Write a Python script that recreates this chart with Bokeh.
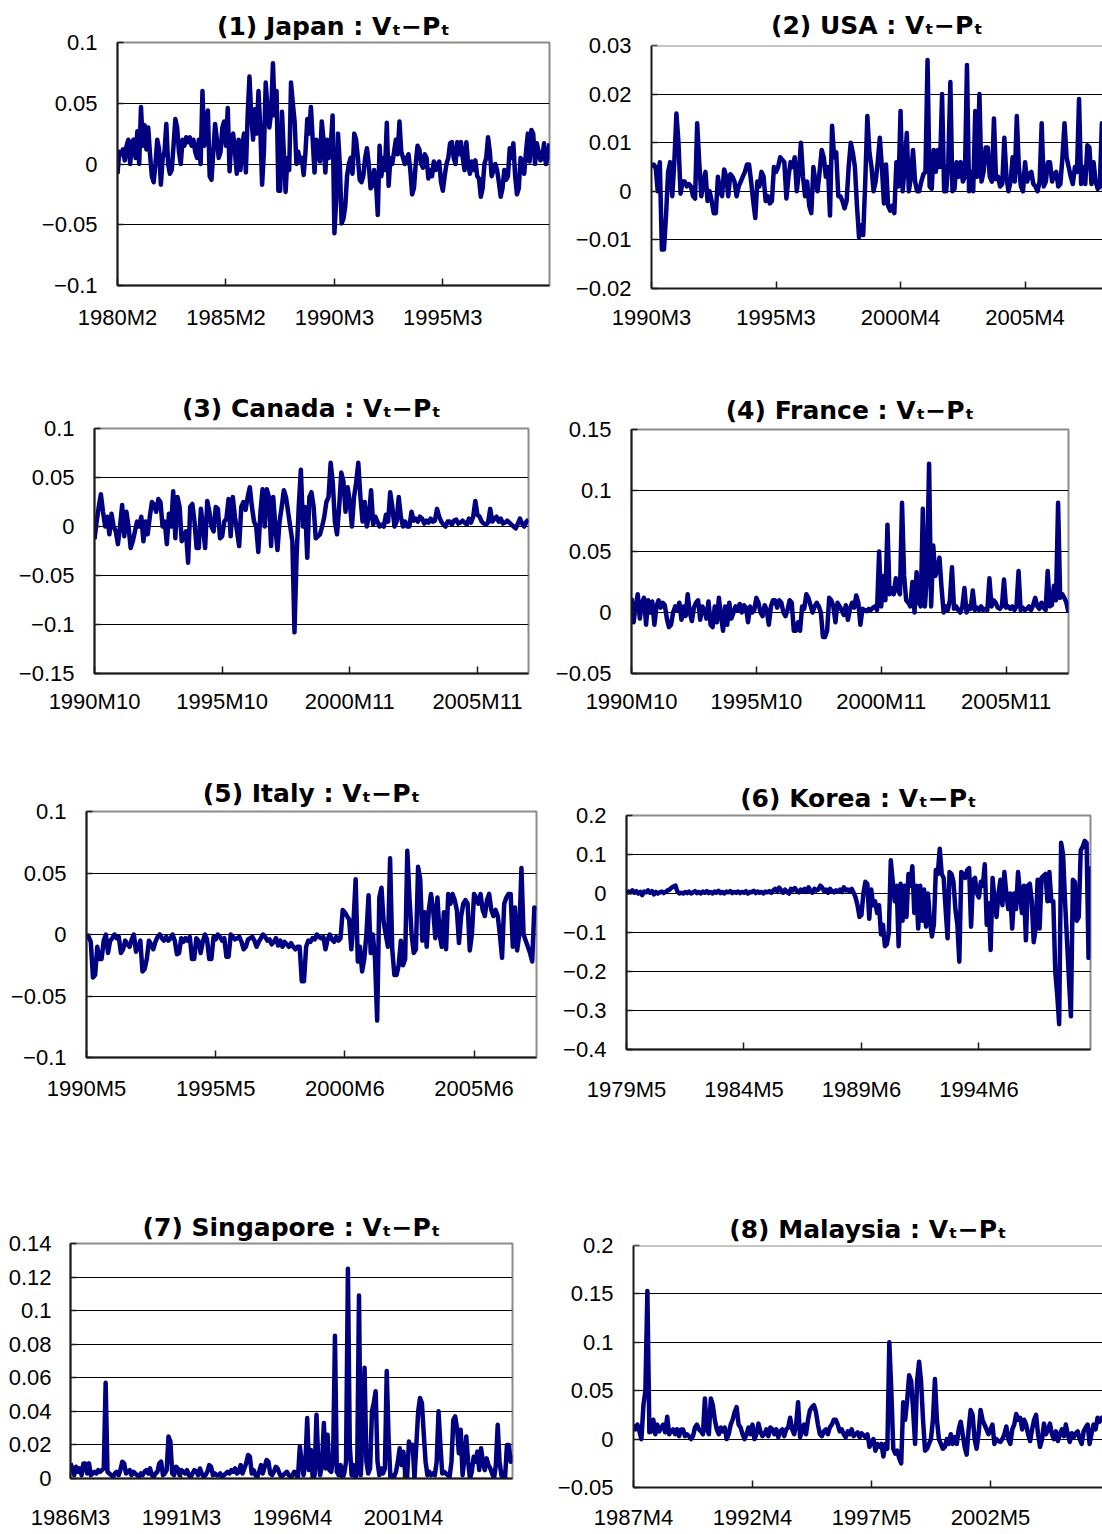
from bokeh.plotting import figure
from bokeh.layouts import column, row
from bokeh.models import Range1d, FixedTicker, Span
from bokeh.embed import file_html
from bokeh.resources import INLINE

# ---------------- data (monthly values) ----------------
japan = [
    -0.008, 0.01, 0.008, 0.012, 0.003, 0.015, 0.02, 0.0, 0.018, 0.02,
    0.005, 0.027, 0.0, 0.047, 0.015, 0.032, 0.012, 0.03, 0.008, -0.01,
    -0.015, 0.0, 0.02, 0.012, -0.017, 0.005, 0.01, 0.033, 0.0, -0.008,
    -0.005, 0.015, 0.037, 0.03, 0.01, 0.0, 0.02, 0.015, 0.022, 0.018,
    0.022, 0.015, 0.02, 0.01, 0.005, 0.02, 0.0, 0.06, 0.015, 0.035,
    0.044, -0.01, -0.013, 0.01, 0.033, 0.02, 0.005, 0.01, 0.03, 0.035,
    0.015, 0.046, -0.006, 0.02, 0.025, 0.01, -0.008, 0.02, -0.005, 0.015,
    0.025, -0.007, 0.04, 0.072, 0.04, 0.02, 0.045, 0.025, 0.06, 0.03,
    -0.017, 0.01, 0.067, 0.045, 0.03, 0.042, 0.083, 0.04, 0.06, -0.022,
    -0.022, 0.043, 0.01, -0.023, 0.005, -0.005, 0.067, 0.05, 0.035, 0.0,
    0.01, 0.002, 0.005, -0.009, 0.01, 0.037, 0.025, 0.047, 0.02, -0.007,
    0.02, 0.015, 0.002, 0.035, 0.02, -0.007, 0.02, 0.005, 0.015, 0.04,
    -0.057, -0.03, 0.025, 0.0, -0.049, -0.045, -0.035, -0.01, 0.0, 0.005,
    -0.008, 0.025, 0.02, 0.005, -0.013, -0.015, -0.01, 0.005, 0.013, 0.0,
    -0.02, -0.018, -0.005, -0.015, -0.042, 0.015, -0.01, 0.005, -0.005, 0.034,
    -0.018, 0.005, 0.0, 0.01, 0.02, 0.008, 0.035, 0.01, 0.005, 0.0,
    0.005, 0.008, -0.005, -0.025, -0.02, 0.0, 0.015, 0.012, 0.0, -0.003,
    0.008, 0.005, -0.012, -0.005, -0.01, 0.002, -0.005, 0.0, 0.002, -0.015,
    -0.022, -0.01, 0.0, 0.005, 0.017, 0.018, 0.005, 0.0, 0.018, 0.008,
    0.018, 0.005, -0.005, 0.018, 0.0, -0.008, 0.002, -0.005, 0.003, -0.01,
    -0.012, -0.027, -0.02, 0.0, 0.005, 0.022, 0.01, -0.01, -0.005, 0.0,
    -0.005, -0.015, -0.027, -0.02, -0.005, -0.013, -0.01, 0.013, 0.005, 0.017,
    -0.01, -0.025, -0.02, 0.005, 0.0, -0.008, 0.01, 0.025, 0.002, 0.028,
    0.025, 0.0, 0.017, 0.01, 0.003, 0.005, 0.017, 0.0, 0.005, 0.017,
]

usa = [
    0.005, 0.0055, 0.005, 0.0, 0.006, -0.012, -0.012, -0.005, 0.004, 0.006,
    -0.001, 0.006, 0.016, 0.01, -0.0005, 0.002, 0.002, 0.001, 0.0015, 0.001,
    -0.001, -0.0015, 0.014, 0.006, -0.001, 0.002, 0.004, -0.002, 0.0, -0.002,
    -0.0045, -0.0045, 0.003, 0.0, -0.001, 0.0045, 0.003, -0.001, 0.0035, 0.003,
    0.002, -0.001, 0.001, 0.002, 0.003, 0.004, 0.0055, 0.0055, 0.002, -0.002,
    -0.0055, 0.002, 0.001, 0.004, 0.003, -0.002, -0.001, -0.0025, -0.002, 0.005,
    0.004, 0.005, 0.007, 0.0065, 0.006, -0.0015, 0.003, 0.006, 0.005, 0.007,
    0.0, 0.004, 0.010, 0.003, -0.001, 0.002, -0.003, -0.0045, 0.005, 0.002,
    0.0, 0.004, 0.0085, 0.007, 0.003, 0.005, -0.005, 0.0135, 0.007, 0.008,
    -0.001, -0.001, -0.002, -0.0035, -0.002, 0.005, 0.01, 0.008, 0.005, -0.003,
    -0.0095, -0.007, -0.009, 0.002, 0.0155, 0.008, 0.005, 0.0, 0.002, 0.006,
    0.011, 0.005, -0.0025, 0.0055, -0.003, -0.004, -0.003, -0.0045, 0.006, 0.001,
    0.0165, 0.0, 0.005, 0.012, 0.0, 0.003, 0.0085, 0.002, 0.0, 0.0,
    0.002, 0.0035, 0.004, 0.027, 0.001, 0.0005, 0.0085, 0.004, 0.0085, 0.005,
    0.02, 0.0, 0.0, 0.006, 0.0225, 0.0, 0.0005, 0.006, 0.003, 0.006,
    0.002, 0.003, 0.026, 0.0, 0.004, 0.0, 0.0165, 0.003, 0.02, 0.002,
    0.004, 0.009, 0.009, 0.003, 0.002, 0.015, 0.0025, 0.003, 0.001, 0.0015,
    0.011, 0.003, 0.0, 0.002, 0.007, 0.002, 0.0155, 0.005, 0.001, 0.0,
    0.006, 0.002, 0.0035, 0.004, 0.0015, 0.001, 0.0, 0.002, 0.014, 0.001,
    0.002, 0.006, 0.006, 0.002, 0.0035, 0.004, 0.001, 0.0015, 0.007, 0.014,
    0.007, 0.005, 0.003, 0.0015, 0.005, 0.004, 0.019, 0.0015, 0.005, 0.0015,
    0.0095, 0.009, 0.0015, 0.006, 0.002, 0.0005, 0.001, 0.014, 0.0, 0.006,
    0.002, 0.005,
]

canada = [
    -0.013, 0.005, 0.02, 0.033, 0.015, 0.0, 0.01, -0.008, 0.013, 0.0,
    -0.005, -0.018, 0.0, 0.022, -0.01, 0.015, 0.0, -0.022, -0.015, -0.005,
    0.005, 0.0, 0.01, -0.015, 0.005, -0.008, 0.01, 0.025, 0.022, 0.015,
    0.028, 0.025, 0.0, 0.005, -0.018, 0.013, 0.0, 0.036, -0.012, 0.03,
    0.02, -0.015, -0.01, -0.005, -0.037, 0.02, 0.023, 0.005, -0.022, -0.022,
    0.018, 0.0, -0.022, 0.026, 0.015, 0.0, -0.005, 0.02, 0.018, -0.012,
    -0.01, 0.005, 0.008, 0.028, -0.01, 0.03, 0.01, -0.005, -0.02, 0.02,
    0.025, 0.017, 0.03, 0.04, 0.02, 0.005, 0.0, -0.026, 0.015, 0.038,
    0.0, 0.038, 0.03, -0.02, 0.03, 0.0, -0.024, 0.005, 0.02, 0.037,
    0.03, 0.015, 0.0, -0.015, -0.108, -0.03, 0.02, 0.058, 0.0, 0.02,
    -0.032, 0.03, 0.035, 0.02, -0.012, -0.01, -0.008, 0.0, 0.01, 0.025,
    0.03, 0.065, 0.045, 0.005, -0.008, 0.02, 0.055, 0.046, 0.015, 0.04,
    0.025, 0.0, 0.03, 0.045, 0.065, 0.03, 0.005, 0.025, 0.0, 0.01,
    0.037, 0.002, 0.01, 0.005, 0.0, 0.002, 0.0, 0.012, 0.005, 0.035,
    0.02, 0.0, 0.005, 0.03, 0.01, 0.0, 0.005, 0.0, 0.0, 0.015,
    0.006, 0.008, 0.005, 0.01, 0.008, 0.003, 0.006, 0.004, 0.008, 0.005,
    0.006, 0.018, 0.01, 0.005, 0.002, 0.0, 0.005, 0.005, 0.002, 0.006,
    0.007, 0.003, 0.004, 0.006, 0.004, 0.002, 0.008, 0.004, 0.01, 0.026,
    0.012, 0.01, 0.005, 0.003, 0.002, 0.004, 0.018, 0.005, 0.008, 0.01,
    0.005, 0.008, 0.003, 0.004, 0.006, 0.004, 0.002, 0.0, -0.002, 0.003,
    0.008, 0.003, 0.0, 0.005, 0.007,
]

france = [
    0.012, -0.008, 0.005, 0.015, -0.005, 0.008, 0.012, -0.01, 0.01, 0.0,
    0.009, -0.01, 0.005, 0.01, 0.004, 0.008, 0.006, -0.005, -0.012, -0.01,
    0.0, 0.005, 0.002, 0.008, -0.006, 0.005, -0.003, 0.015, 0.0, -0.007,
    0.004, 0.008, 0.01, -0.006, 0.005, 0.002, -0.005, 0.009, -0.01, -0.012,
    0.005, -0.008, 0.012, -0.003, -0.015, 0.005, -0.01, 0.008, -0.005, 0.0,
    0.005, 0.002, 0.007, 0.0, 0.006, 0.004, -0.008, 0.005, 0.0, 0.002,
    0.012, 0.008, 0.0, -0.003, 0.006, 0.002, -0.01, 0.005, 0.01, 0.01,
    0.004, 0.01, 0.008, 0.0, -0.003, 0.002, 0.01, 0.008, -0.015, -0.015,
    -0.008, -0.015, 0.005, 0.003, 0.015, 0.012, 0.006, 0.0, 0.005, 0.008,
    0.005, 0.0, -0.02, -0.02, -0.015, 0.012, 0.01, 0.005, -0.008, 0.008,
    0.005, 0.002, -0.002, 0.006, -0.006, 0.003, 0.008, 0.004, 0.014, 0.008,
    -0.01, 0.003, 0.002, 0.001, 0.003, 0.002, 0.004, 0.005, 0.002, 0.05,
    0.005, 0.03, 0.01, 0.072, 0.015, 0.02, 0.015, 0.028, 0.018, 0.015,
    0.09, 0.03, 0.01, 0.008, 0.005, 0.025, 0.0, 0.033, 0.008, 0.005,
    0.085, 0.005, 0.03, 0.122, 0.005, 0.055, 0.03, 0.035, 0.045, 0.02,
    0.0, 0.005, 0.002, 0.01, 0.037, 0.003, 0.005, 0.002, 0.0, 0.005,
    0.02, 0.0, 0.005, 0.003, 0.018, 0.002, 0.004, 0.002, 0.005, 0.002,
    0.003, 0.002, 0.028, 0.005, 0.01, 0.008, 0.004, 0.003, 0.005, 0.027,
    0.004, 0.005, 0.003, 0.005, 0.002, 0.005, 0.034, 0.002, 0.004, 0.002,
    0.003, 0.005, 0.002, 0.006, 0.012, 0.005, 0.003, 0.008, 0.004, 0.002,
    0.034, 0.005, 0.006, 0.022, 0.01, 0.09, 0.012, 0.015, 0.012, 0.008, 0.0,
]

italy = [
    0.0, -0.002, -0.006, -0.035, -0.033, -0.01, -0.02, -0.02, -0.005, 0.0,
    -0.015, -0.005, -0.003, 0.0, -0.003, -0.002, -0.015, -0.012, -0.005, -0.008,
    -0.01, -0.004, 0.0, -0.014, -0.01, -0.005, -0.03, -0.028, -0.02, -0.005,
    -0.008, -0.012, -0.006, -0.002, 0.0, -0.003, -0.005, -0.002, -0.005, -0.003,
    0.0, -0.005, -0.016, -0.015, -0.003, -0.006, -0.003, -0.005, -0.002, -0.02,
    -0.02, -0.003, -0.005, -0.015, -0.006, 0.0, -0.004, -0.02, -0.02, -0.002,
    -0.004, 0.0, -0.002, -0.005, -0.003, -0.018, -0.018, 0.0, -0.002, -0.004,
    -0.003, -0.002, -0.006, -0.012, -0.01, -0.004, -0.003, -0.002, -0.005, -0.01,
    -0.006, -0.003, 0.0, -0.002, -0.005, -0.004, -0.008, -0.006, -0.003, -0.009,
    -0.005, -0.01, -0.006, -0.008, -0.01, -0.007, -0.01, -0.012, -0.01, -0.01,
    -0.038, -0.038, -0.01, -0.005, -0.006, -0.003, -0.004, 0.0, -0.002, -0.003,
    -0.002, -0.012, -0.004, 0.0, -0.004, -0.006, -0.002, -0.005, -0.003, 0.02,
    0.018, 0.015, 0.012, -0.012, 0.01, 0.045, -0.022, -0.01, -0.03, -0.02,
    0.0, 0.032, -0.015, 0.0, -0.02, -0.07, 0.03, 0.038, 0.01, 0.0,
    -0.01, 0.062, -0.012, -0.033, -0.033, -0.025, -0.005, -0.025, -0.02, 0.068,
    0.03, 0.0, -0.015, -0.012, 0.055, 0.045, -0.005, 0.018, -0.01, 0.02,
    0.033, 0.02, -0.003, 0.03, 0.0, -0.01, 0.018, -0.012, 0.033, 0.025,
    0.033, 0.028, 0.02, -0.007, 0.015, 0.025, 0.028, 0.025, -0.013, 0.0,
    0.033, 0.03, 0.025, 0.033, 0.02, 0.015, 0.028, 0.033, 0.02, 0.015,
    0.02, 0.015, 0.0, -0.019, 0.025, 0.03, 0.033, 0.033, -0.01, 0.022,
    -0.013, 0.0, 0.054, 0.0, -0.005, -0.01, -0.015, -0.022, 0.022, 0.02,
]

korea = [
    0.0, 0.005, 0.003, 0.008, 0.002, 0.006, 0.0, 0.004, -0.004, 0.005,
    0.003, 0.008, 0.002, 0.006, -0.002, 0.004, 0.0, 0.003, 0.005, 0.001,
    0.004, 0.008, 0.01, 0.015, 0.018, 0.02, 0.005, 0.0, 0.002, 0.0,
    0.004, 0.001, 0.005, 0.0, 0.003, 0.006, 0.001, 0.004, 0.0, 0.005,
    0.002, 0.006, 0.001, 0.004, 0.0, 0.005, 0.002, 0.007, 0.001, 0.004,
    0.0, 0.005, 0.003, 0.006, 0.001, 0.004, 0.002, 0.005, 0.001, 0.004,
    0.002, 0.006, 0.0, 0.004, 0.003, 0.007, 0.001, 0.005, 0.002, 0.004,
    0.0, 0.005, 0.003, 0.006, 0.002, 0.008, 0.012, 0.005, 0.015, 0.008,
    0.002, 0.01, 0.004, 0.0, 0.012, 0.008, 0.014, 0.006, 0.003, 0.01,
    0.005, 0.012, 0.004, 0.016, 0.006, 0.002, 0.012, 0.008, 0.01, 0.02,
    0.015, 0.005, 0.01, 0.002, 0.012, 0.006, 0.003, 0.008, 0.005, 0.01,
    0.004, 0.016, 0.008, 0.01, 0.005, 0.012, 0.002,
    -0.01, -0.03, -0.06, -0.055, 0.0, 0.03, 0.025, -0.065, 0.01, -0.03,
    -0.02, -0.05, -0.03, -0.105, -0.08, -0.135, -0.13, -0.1, 0.085, 0.03,
    -0.02, 0.02, -0.135, 0.025, -0.07, 0.02, -0.06, 0.05, 0.02, 0.07,
    -0.05, 0.02, -0.09, 0.02, -0.07, 0.01, -0.085, 0.0, -0.07, -0.11,
    -0.08, 0.06, 0.05, 0.115, 0.05, 0.04, -0.04, -0.115, 0.055, 0.05,
    0.03, -0.04, -0.08, -0.175, 0.055, 0.05, 0.04, 0.06, 0.065, -0.085,
    0.035, 0.04, 0.0, -0.01, 0.03, 0.02, 0.075, -0.08, -0.025, -0.145,
    0.04, -0.02, -0.06, 0.0, 0.035, -0.03, 0.055, 0.0, -0.04, 0.0,
    -0.09, 0.0, -0.04, 0.055, 0.0, -0.05, 0.02, -0.12, 0.02, 0.025,
    -0.02, -0.125, -0.09, 0.035, -0.09, 0.04, 0.045, 0.05, -0.02, 0.055,
    -0.02, -0.02, -0.2, -0.26, -0.335, 0.13, 0.1, -0.02, -0.12, -0.22,
    -0.315, 0.035, 0.03, -0.07, -0.06, 0.11, 0.12, 0.135, 0.13, -0.165,
    0.07,
]

singapore = [
    0.009, 0.006, 0.002, 0.007, 0.004, 0.006, 0.002, 0.009, 0.009, 0.003,
    0.009, 0.002, 0.003, 0.004, 0.003, 0.005, 0.004, 0.005, 0.006, 0.057,
    0.004, 0.003, 0.002, 0.001, 0.003, 0.004, 0.002, 0.005, 0.01, 0.009,
    0.003, 0.004, 0.005, 0.002, 0.004, 0.003, 0.002, 0.001, 0.003, 0.002,
    0.004, 0.005, 0.003, 0.006, 0.002, 0.001, 0.003, 0.004, 0.009, 0.01,
    0.002, 0.003, 0.005, 0.025, 0.022, 0.003, 0.002, 0.007, 0.006, 0.002,
    0.005, 0.004, 0.003, 0.005, 0.002, 0.001, 0.003, 0.005, 0.004, 0.002,
    0.006, 0.003, 0.001, 0.002, 0.004, 0.008, 0.007, 0.002, 0.003, 0.002,
    0.002, 0.003, 0.001, 0.002, 0.003, 0.004, 0.003, 0.005, 0.004, 0.006,
    0.003, 0.004, 0.008, 0.003, 0.006, 0.009, 0.014, 0.013, 0.003, 0.005,
    0.002, 0.001, 0.004, 0.008, 0.003, 0.007, 0.011, 0.01, 0.003, 0.002,
    0.004, 0.007, 0.006, 0.003, 0.001, 0.002, 0.003, 0.004, 0.002, 0.001,
    0.002, 0.004, 0.002, 0.001, 0.019, 0.01, 0.002, 0.009, 0.036, 0.005,
    0.017, 0.0, 0.002, 0.038, 0.01, 0.002, 0.008, 0.033, 0.006, 0.026,
    0.005, 0.004, 0.012, 0.085, 0.004, 0.002, 0.008, 0.0, 0.003, 0.01,
    0.125, 0.02, 0.002, 0.008, 0.0, 0.004, 0.109, 0.002, 0.03, 0.066,
    0.01, 0.003, 0.006, 0.04, 0.045, 0.052, 0.01, 0.002, 0.006, 0.003,
    0.006, 0.064, 0.024, 0.0, 0.002, 0.001, 0.004, 0.01, 0.018, 0.008,
    0.016, 0.003, 0.0, 0.022, 0.018, 0.02, 0.0, 0.02, 0.04, 0.048,
    0.045, 0.027, 0.01, 0.002, 0.004, 0.002, 0.003, 0.002, 0.01, 0.04,
    0.02, 0.003, 0.004, 0.003, 0.002, 0.001, 0.01, 0.035, 0.037, 0.03,
    0.015, 0.029, 0.002, 0.012, 0.025, 0.01, 0.0, 0.004, 0.013, 0.01,
    0.016, 0.005, 0.018, 0.01, 0.005, 0.012, 0.008, 0.006, 0.003, 0.0,
    0.008, 0.032, 0.01, 0.002, 0.0, 0.001, 0.02, 0.02, 0.01, 0.014,
]

malaysia = [
    0.015, 0.01, 0.015, 0.008, 0.0, 0.035, 0.05, 0.153, 0.007, 0.008,
    0.02, 0.005, 0.015, 0.008, 0.012, 0.015, 0.007, 0.023, 0.005, 0.008,
    0.01, 0.005, 0.01, 0.003, 0.01, 0.01, 0.003, 0.005, 0.003, 0.0,
    0.003, 0.012, 0.015, 0.01, 0.008, 0.005, 0.042, 0.01, 0.005, 0.042,
    0.035, 0.02, 0.01, 0.005, 0.012, 0.008, 0.012, 0.0, 0.005, 0.015,
    0.02, 0.028, 0.033, 0.015, 0.012, 0.005, 0.0, 0.005, 0.012, 0.005,
    0.015, 0.0, 0.005, 0.016, 0.008, 0.003, 0.005, 0.01, 0.003, 0.012,
    0.01, 0.005, 0.01, 0.002, 0.008, 0.01, 0.003, 0.01, 0.012, 0.022,
    0.01, 0.005, 0.015, 0.038, 0.002, 0.008, 0.015, 0.005, 0.02, 0.03,
    0.033, 0.035, 0.028, 0.015, 0.005, 0.003, 0.008, 0.01, 0.005, 0.012,
    0.015, 0.02, 0.02, 0.015, 0.008, 0.01, 0.005, 0.002, 0.008, 0.005,
    0.01, 0.003, 0.005, 0.007, 0.002, 0.006, 0.004, 0.002, 0.005, -0.008,
    -0.003, 0.0, -0.012, -0.005, -0.008, -0.005, -0.018, -0.005, -0.01, 0.1,
    0.05, -0.01, -0.015, -0.012, -0.02, -0.025, 0.038, 0.02, 0.04, 0.066,
    0.06, 0.03, -0.005, 0.06, 0.08, 0.06, 0.02, -0.012, -0.01, -0.005,
    0.0, 0.02, 0.062, 0.02, 0.0, -0.005, -0.01, -0.008, 0.0, -0.005,
    0.005, -0.005, 0.002, -0.005, 0.01, 0.018, 0.005, -0.008, -0.016, 0.01,
    0.03, 0.025, 0.0, -0.01, 0.005, 0.03, 0.02, 0.015, 0.01, 0.005,
    0.01, 0.015, -0.005, 0.0, -0.002, -0.003, 0.0, 0.005, 0.013, 0.0,
    -0.005, 0.01, 0.015, 0.026, 0.02, 0.022, 0.01, 0.02, 0.015, 0.005,
    -0.002, 0.01, 0.02, 0.025, 0.005, -0.008, 0.0, 0.016, 0.005, 0.01,
    0.016, 0.005, 0.0, 0.008, -0.002, 0.005, 0.01, 0.003, 0.015, 0.005,
    -0.003, 0.006, 0.002, 0.006, 0.008, 0.0, -0.005, 0.008, 0.012, 0.015,
    -0.005, 0.006, 0.015, 0.01, 0.022, 0.018, 0.022, 0.02,
]

titles = [
    "(1) Japan : V\u209c\u2212P\u209c",
    "(2) USA : V\u209c\u2212P\u209c",
    "(3) Canada : V\u209c\u2212P\u209c",
    "(4) France : V\u209c\u2212P\u209c",
    "(5) Italy : V\u209c\u2212P\u209c",
    "(6) Korea : V\u209c\u2212P\u209c",
    "(7) Singapore : V\u209c\u2212P\u209c",
    "(8) Malaysia : V\u209c\u2212P\u209c",
]

x_labels_japan = ["1980M2", "1985M2", "1990M3", "1995M3"]
x_labels_usa = ["1990M3", "1995M3", "2000M4", "2005M4"]
x_labels_canada = ["1990M10", "1995M10", "2000M11", "2005M11"]
x_labels_france = ["1990M10", "1995M10", "2000M11", "2005M11"]
x_labels_italy = ["1990M5", "1995M5", "2000M6", "2005M6"]
x_labels_korea = ["1979M5", "1984M5", "1989M6", "1994M6"]
x_labels_singapore = ["1986M3", "1991M3", "1996M4", "2001M4"]
x_labels_malaysia = ["1987M4", "1992M4", "1997M5", "2002M5"]
x_tick_step = 60

y_ticks_japan = [-0.1, -0.05, 0, 0.05, 0.1]
y_ticks_usa = [-0.02, -0.01, 0, 0.01, 0.02, 0.03]
y_ticks_canada = [-0.15, -0.1, -0.05, 0, 0.05, 0.1]
y_ticks_france = [-0.05, 0, 0.05, 0.1, 0.15]
y_ticks_italy = [-0.1, -0.05, 0, 0.05, 0.1]
y_ticks_korea = [-0.4, -0.3, -0.2, -0.1, 0, 0.1, 0.2]
y_ticks_singapore = [0, 0.02, 0.04, 0.06, 0.08, 0.1, 0.12, 0.14]
y_ticks_malaysia = [-0.05, 0, 0.05, 0.1, 0.15, 0.2]

LINE = "#000080"
FRAME = "#8c8c8c"


def fmt(v):
    s = ("%g" % abs(v))
    return ("\u2212" + s) if v < 0 else s


def panel(title, data, xlabels, yticks, x_end, w, h, bl, br, bt, bb,
          t_standoff, t_offset, x_standoff, y_standoff=20, cut=False):
    p = figure(width=w, height=h, output_backend="svg", toolbar_location=None,
               x_range=Range1d(0, x_end), y_range=Range1d(yticks[0], yticks[-1]),
               min_border_left=bl, min_border_right=br,
               min_border_top=bt, min_border_bottom=bb, title=title)
    p.background_fill_color = "white"
    p.border_fill_color = "white"
    p.title.text_font = "DejaVu Sans"
    p.title.text_font_style = "bold"
    p.title.text_font_size = "25px"
    p.title.text_color = "black"
    p.title.align = "center"
    p.title.standoff = t_standoff
    p.title.offset = t_offset

    p.xgrid.visible = False
    p.ygrid.ticker = FixedTicker(ticks=yticks[1:-1])
    p.ygrid.grid_line_color = "black"
    p.ygrid.grid_line_width = 1

    p.xaxis.ticker = FixedTicker(ticks=[i * x_tick_step for i in range(len(xlabels))])
    p.xaxis.major_label_overrides = {i * x_tick_step: lab for i, lab in enumerate(xlabels)}
    p.yaxis.ticker = FixedTicker(ticks=yticks)
    p.yaxis.major_label_overrides = {v: fmt(v) for v in yticks}

    for ax in (p.xaxis[0], p.yaxis[0]):
        ax.axis_line_color = "#1a1a1a"
        ax.axis_line_width = 2
        ax.major_tick_line_color = "#1a1a1a"
        ax.major_tick_line_width = 1.5
        ax.major_tick_out = 0
        ax.minor_tick_in = 0
        ax.minor_tick_out = 0
        ax.major_label_text_font = "Liberation Sans"
        ax.major_label_text_font_size = "22px"
        ax.major_label_text_color = "black"
    p.xaxis.major_tick_in = 7
    p.yaxis.major_tick_in = 6
    p.xaxis.major_label_standoff = x_standoff
    p.yaxis.major_label_standoff = y_standoff

    if cut:
        p.outline_line_color = None
        p.add_layout(Span(location=yticks[-1], dimension="width",
                          line_color=FRAME, line_width=2))
    else:
        p.outline_line_color = FRAME
        p.outline_line_width = 2

    p.line(list(range(len(data))), data, line_color=LINE, line_width=4.5,
           line_join="round")
    return p


W1 = 551
W2 = 551
p1 = panel(titles[0], japan, x_labels_japan, y_ticks_japan, len(japan) - 1,
           W1, 380, 117, 2, 42, 95, 3, -3, 19)
p2 = panel(titles[1], usa, x_labels_usa, y_ticks_usa, 217.3,
           W2, 380, 100, 0, 45, 92, 12, 3, 16, cut=True)
p3 = panel(titles[2], canada, x_labels_canada, y_ticks_canada, len(canada) - 1,
           W1, 385, 94, 23, 48, 92, 11, -3, 15)
p4 = panel(titles[3], france, x_labels_france, y_ticks_france, len(france) - 1,
           W2, 385, 80, 34, 49, 92, 10, 35, 15)
p5 = panel(titles[4], italy, x_labels_italy, y_ticks_italy, len(italy) - 1,
           W1, 415, 86, 15, 46, 123, 8, 7, 18)
p6 = panel(titles[5], korea, x_labels_korea, y_ticks_korea, len(korea) - 1,
           W2, 415, 75, 12, 50, 131, 5, 6, 27)
p7 = panel(titles[6], singapore, x_labels_singapore, y_ticks_singapore, len(singapore) - 1,
           W1, 352, 70, 39, 63, 52, 4, 5, 26, y_standoff=19)
p8 = panel(titles[7], malaysia, x_labels_malaysia, y_ticks_malaysia, 236.5,
           W2, 352, 82, 0, 65, 45, 3, 14, 17, cut=True)

# each plot wrapped in its own column so frames are not aligned across a row
layout = column(
    row(column(p1), column(p2)),
    row(column(p3), column(p4)),
    row(column(p5), column(p6)),
    row(column(p7), column(p8)),
)

open("out.html", "w").write(file_html(layout, INLINE))
